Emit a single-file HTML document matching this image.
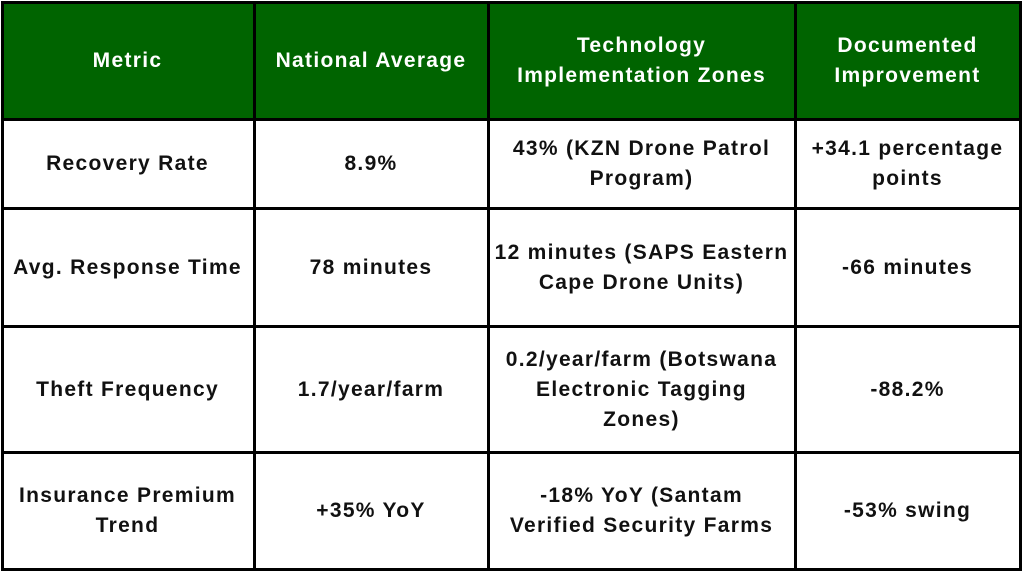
<!DOCTYPE html>
<html><head><meta charset="utf-8"><style>
html,body{margin:0;padding:0;background:#fff;}
#p{position:relative;width:1024px;height:576px;overflow:hidden;background:#fff;font-family:"Liberation Sans",sans-serif;font-weight:bold;}
.c{position:absolute;display:flex;align-items:center;justify-content:center;text-align:center;font-size:21px;letter-spacing:1.3px;line-height:30px;color:#111;box-sizing:border-box;padding:0 2px;white-space:nowrap;}
.h{background:#006400;color:#fff;}
.v{position:absolute;background:#000;width:3px;top:1px;height:570px;}
.l{position:absolute;background:#000;height:3px;left:1px;width:1021px;}
</style></head><body><div id="p">
<div class="c h" style="left:1px;top:2px;width:1020px;height:117px"></div>
<div class="c h" style="left:1px;top:2px;width:253px;height:117px">Metric</div>
<div class="c h" style="left:254px;top:2px;width:234px;height:117px">National Average</div>
<div class="c h" style="left:488px;top:2px;width:307px;height:117px">Technology<br>Implementation Zones</div>
<div class="c h" style="left:795px;top:2px;width:225px;height:117px">Documented<br>Improvement</div>

<div class="c" style="left:1px;top:120px;width:253px;height:88px">Recovery Rate</div>
<div class="c" style="left:254px;top:120px;width:234px;height:88px">8.9%</div>
<div class="c" style="left:488px;top:120px;width:307px;height:88px">43% (KZN Drone Patrol<br>Program)</div>
<div class="c" style="left:795px;top:120px;width:225px;height:88px">+34.1 percentage<br>points</div>

<div class="c" style="left:1px;top:209px;width:253px;height:117px">Avg. Response Time</div>
<div class="c" style="left:254px;top:209px;width:234px;height:117px">78 minutes</div>
<div class="c" style="left:488px;top:209px;width:307px;height:117px">12 minutes (SAPS Eastern<br>Cape Drone Units)</div>
<div class="c" style="left:795px;top:209px;width:225px;height:117px">-66 minutes</div>

<div class="c" style="left:1px;top:327px;width:253px;height:125px">Theft Frequency</div>
<div class="c" style="left:254px;top:327px;width:234px;height:125px">1.7/year/farm</div>
<div class="c" style="left:488px;top:327px;width:307px;height:125px">0.2/year/farm (Botswana<br>Electronic Tagging<br>Zones)</div>
<div class="c" style="left:795px;top:327px;width:225px;height:125px">-88.2%</div>

<div class="c" style="left:1px;top:453px;width:253px;height:116px">Insurance Premium<br>Trend</div>
<div class="c" style="left:254px;top:453px;width:234px;height:116px">+35% YoY</div>
<div class="c" style="left:488px;top:453px;width:307px;height:116px">-18% YoY (Santam<br>Verified Security Farms</div>
<div class="c" style="left:795px;top:453px;width:225px;height:116px">-53% swing</div>

<div class="v" style="left:1px"></div>
<div class="v" style="left:253px"></div>
<div class="v" style="left:487px"></div>
<div class="v" style="left:794px"></div>
<div class="v" style="left:1019px"></div>
<div class="l" style="top:1px"></div>
<div class="l" style="top:118px"></div>
<div class="l" style="top:207px"></div>
<div class="l" style="top:325px"></div>
<div class="l" style="top:451px"></div>
<div class="l" style="top:568px"></div>
</div></body></html>
